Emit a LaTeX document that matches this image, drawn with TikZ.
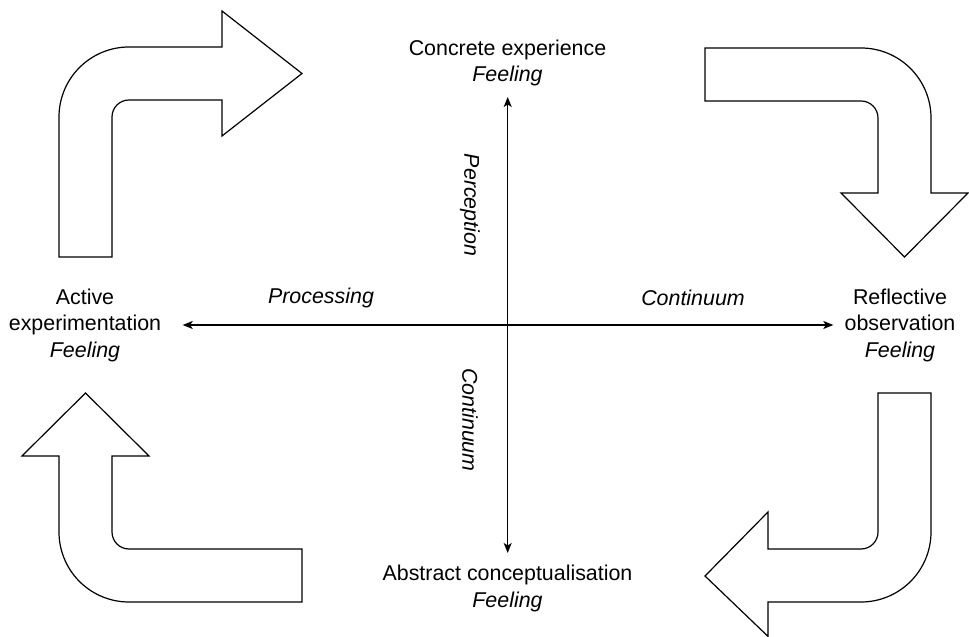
\documentclass[tikz,border=0pt]{standalone}
\usepackage{fontspec}
\setmainfont{Liberation Sans}
\usetikzlibrary{arrows.meta}
\begin{document}
\begin{tikzpicture}[x=1pt,y=1pt,
  lbl/.style={align=center,inner sep=0pt,font=\fontsize{21.4}{26.5}\selectfont},
  axislbl/.style={inner sep=0pt,font=\fontsize{21.4}{26.5}\selectfont\itshape},
  axis/.style={line width=1.2pt,{Stealth[length=10pt,width=8pt,inset=2.5pt]}-{Stealth[length=10pt,width=8pt,inset=2.5pt]}},
  bent/.style={line width=1.2pt,draw=black,fill=white,line join=miter}]
\useasboundingbox (0,0) rectangle (969,637);

% stage labels
\node[lbl] (ce) at (507.5,574) {Concrete experience\\\textit{Feeling}};
\node[lbl] (ac) at (507.5,48.5) {Abstract conceptualisation\\\textit{Feeling}};
\node[lbl] (ae) at (85,312) {Active\\experimentation\\\textit{Feeling}};
\node[lbl] (ro) at (900,312) {Reflective\\observation\\\textit{Feeling}};

% axis end points
\coordinate (vtop) at (507.7,540);
\coordinate (vbot) at (507.7,84);
\coordinate (hleft) at (182.7,312);
\coordinate (hright) at (833.3,312);

\draw[axis] (vbot) -- (vtop);
\draw[axis] (hleft) -- (hright);

% axis labels
\node[axislbl,rotate=-90] (perc) at (470,432) {Perception};
\node[axislbl,rotate=-90] (contv) at (470,217) {Continuum};
\node[axislbl] (proc) at (321,339) {Processing};
\node[axislbl] (conth) at (693,339) {Continuum};

% bent arrow, upper left
\draw[bent] (59,380) -- (59,520) arc[start angle=180,end angle=90,radius=70]
  -- (222,590) -- (222,626) -- (302,563.5) -- (222,501) -- (222,537)
  -- (129,537) arc[start angle=90,end angle=180,radius=17]
  -- (112,380) -- cycle;

% bent arrow, upper right
\draw[bent] (705,589) -- (861,589) arc[start angle=90,end angle=0,radius=70]
  -- (931,444) -- (968,444) -- (904.5,380) -- (841,444) -- (878,444)
  -- (878,519) arc[start angle=0,end angle=90,radius=17]
  -- (705,536) -- cycle;

% bent arrow, lower right
\draw[bent] (878,244) -- (931,244) -- (931,105) arc[start angle=0,end angle=-90,radius=70]
  -- (768,35) -- (768,0.6) -- (705,61) -- (768,125) -- (768,88)
  -- (861,88) arc[start angle=-90,end angle=0,radius=17]
  -- cycle;

% bent arrow, lower left
\draw[bent] (302,88) -- (129,88) arc[start angle=270,end angle=180,radius=17]
  -- (112,181) -- (149,181) -- (85.5,244) -- (22,181) -- (59,181)
  -- (59,105) arc[start angle=180,end angle=270,radius=70]
  -- (302,35) -- cycle;
\end{tikzpicture}
\end{document}
